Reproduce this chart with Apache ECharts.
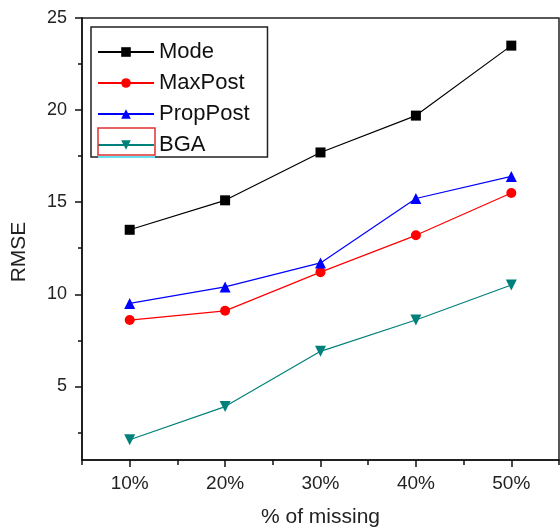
<!DOCTYPE html>
<html>
<head>
<meta charset="utf-8">
<script src="https://cdn.jsdelivr.net/npm/echarts@6/dist/echarts.min.js"></script>
<style>
html, body { margin: 0; padding: 0; background: #fff; }
#rmseChart { width: 560px; height: 529px; }
</style>
</head>
<body>
<div id="rmseChart"></div>
<script>
// % of missing values on the x axis
var missing = [10, 20, 30, 40, 50];
var xLabelTicks = [10, 20, 30, 40, 50];
var xMinorTicks = [5, 15, 25, 35, 45, 55];
var yLabelTicks = [5, 10, 15, 20, 25];
var yMinorTicks = [2.5, 7.5, 12.5, 17.5, 22.5];

// RMSE per method
var mode = [13.5, 15.1, 17.7, 19.7, 23.5];
var maxPost = [8.6, 9.1, 11.2, 13.2, 15.5];
var propPost = [9.5, 10.4, 11.7, 15.2, 16.4];
var bga = [2.1, 3.9, 6.9, 8.6, 10.5];

function pairs(ys) {
    return missing.map(function (x, i) { return [x, ys[i]]; });
}

var font = 'Liberation Sans';
var rmseChart = echarts.init(document.getElementById('rmseChart'));

var option = {
    animation: false,
    grid: {
        left: 82,
        top: 18,
        right: 1,
        bottom: 69,
        outerBoundsMode: 'none',
        containLabel: false,
        show: true,
        borderColor: '#222',
        borderWidth: 1.5
    },
    legend: {
        orient: 'vertical',
        left: 91,
        top: 27,
        padding: [14, 18, 1, 6],
        borderColor: '#222',
        borderWidth: 1.5,
        backgroundColor: '#fff',
        itemWidth: 56,
        itemHeight: 12,
        itemGap: 9,
        textStyle: { fontFamily: font, fontSize: 22, color: '#111' },
        data: ['Mode', 'MaxPost', 'PropPost', 'BGA']
    },
    xAxis: [
        {
            type: 'value',
            min: 5,
            max: 55,
            name: '% of missing',
            nameLocation: 'middle',
            nameGap: 47,
            nameTextStyle: { fontFamily: font, fontSize: 21, color: '#222' },
            splitLine: { show: false },
            axisLine: { lineStyle: { color: '#111', width: 1.5 } },
            axisTick: { customValues: xLabelTicks, length: 7, lineStyle: { color: '#111', width: 1.5 } },
            axisLabel: {
                customValues: xLabelTicks,
                formatter: '{value}%',
                margin: 14,
                fontFamily: font,
                fontSize: 19,
                color: '#222'
            }
        },
        {
            type: 'value',
            min: 5,
            max: 55,
            position: 'bottom',
            splitLine: { show: false },
            axisLine: { show: false },
            axisTick: { customValues: xMinorTicks, length: 5, lineStyle: { color: '#111', width: 1.5 } },
            axisLabel: { show: false }
        }
    ],
    yAxis: [
        {
            type: 'value',
            min: 1,
            max: 25,
            name: 'RMSE',
            nameLocation: 'middle',
            nameGap: 52,
            nameTextStyle: { fontFamily: font, fontSize: 21, color: '#222', padding: [0, 26, 0, 0] },
            splitLine: { show: false },
            axisLine: { show: true, lineStyle: { color: '#111', width: 1.5 } },
            axisTick: { customValues: yLabelTicks, length: 7, lineStyle: { color: '#111', width: 1.5 } },
            axisLabel: {
                customValues: yLabelTicks,
                margin: 15,
                fontFamily: font,
                fontSize: 18,
                color: '#222'
            }
        },
        {
            type: 'value',
            min: 1,
            max: 25,
            position: 'left',
            splitLine: { show: false },
            axisLine: { show: false },
            axisTick: { customValues: yMinorTicks, length: 4, lineStyle: { color: '#111', width: 1.5 } },
            axisLabel: { show: false }
        }
    ],
    graphic: [
        {
            type: 'rect',
            shape: { x: 98, y: 128, width: 57, height: 27 },
            style: { fill: 'none', stroke: '#e03030', lineWidth: 1.5 },
            z: 200
        },
        {
            type: 'line',
            shape: { x1: 98, y1: 157, x2: 155, y2: 157 },
            style: { stroke: '#66e0f0', lineWidth: 2 },
            z: 200
        }
    ],
    series: [
        {
            name: 'Mode',
            type: 'line',
            data: pairs(mode),
            symbol: 'rect',
            symbolSize: 10,
            color: '#000',
            lineStyle: { width: 1.2 }
        },
        {
            name: 'MaxPost',
            type: 'line',
            data: pairs(maxPost),
            symbol: 'circle',
            symbolSize: 10,
            color: '#f00',
            lineStyle: { width: 1.2 }
        },
        {
            name: 'PropPost',
            type: 'line',
            data: pairs(propPost),
            symbol: 'triangle',
            symbolSize: 11,
            color: '#00f',
            lineStyle: { width: 1.2 }
        },
        {
            name: 'BGA',
            type: 'line',
            data: pairs(bga),
            symbol: 'triangle',
            symbolRotate: 180,
            symbolSize: 11,
            color: '#00807a',
            lineStyle: { width: 1.2 }
        }
    ]
};
rmseChart.setOption(option);
</script>
</body>
</html>
